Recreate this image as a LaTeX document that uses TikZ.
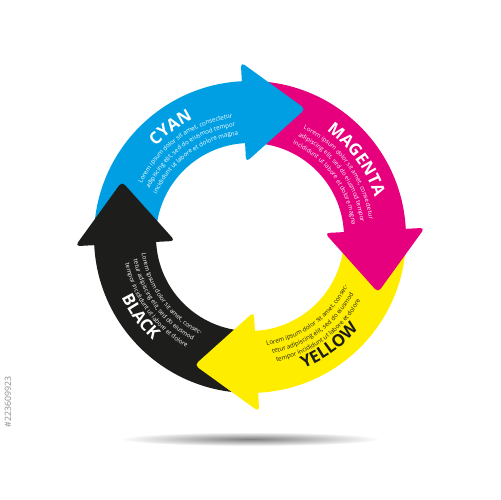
\documentclass[tikz,border=0pt]{standalone}
\usepackage{fontspec}
\setmainfont{Open Sans}
\usetikzlibrary{decorations.text}

\definecolor{inkcyan}{HTML}{009FE3}
\definecolor{inkmagenta}{HTML}{E6007E}
\definecolor{inkyellow}{HTML}{FFED00}
\definecolor{inkblack}{HTML}{1D1D1B}

\newcommand{\titlefont}{\bfseries\fontsize{19}{19}\selectfont}
\newcommand{\loremfont}{\fontsize{7}{8}\selectfont}

% band + arrow head of one colour, turned by #2
\newcommand{\cmykarrow}[2]{%
	\begin{scope}[rotate=#2]
		\fill[#1] (89:156) arc[start angle=89, end angle=179, radius=156] -- (179:94) arc[start angle=179, end angle=89, radius=94] -- cycle;
	\end{scope}}
\newcommand{\cmykhead}[2]{%
	\begin{scope}[rotate=#2]
		\fill[#1, rounded corners=5pt] (0,75) -- (62,125) -- (0,175) -- cycle;
	\end{scope}}
% text on an arc: #1 radius, #2 middle angle, #3 colour, #4 text
\newcommand{\cwtext}[4]{%
	\path[decorate, decoration={text along path, text align=center, text color=#3, text={#4}}] ({#2+45}:#1) arc[start angle={#2+45}, end angle={#2-45}, radius=#1];}
\newcommand{\ccwtext}[4]{%
	\path[decorate, decoration={text along path, text align=center, text color=#3, text={#4}}] ({#2-45}:#1) arc[start angle={#2-45}, end angle={#2+45}, radius=#1];}

\begin{document}
\begin{tikzpicture}[x=0.04cm, y=0.04cm]
	\useasboundingbox (-250,-263) rectangle (250,237);
	
	% shadow
	\shade[inner color=black!50, outer color=white] (0,-202) ellipse (130 and 7);
	
	\cmykarrow{inkcyan}{3}
	\cmykarrow{inkmagenta}{-87}
	\cmykarrow{inkyellow}{-177}
	\cmykarrow{inkblack}{-267}
	
	\cmykhead{inkcyan}{3}
	\cmykhead{inkmagenta}{-87}
	\cmykhead{inkyellow}{-177}
	\cmykhead{inkblack}{-267}
	
	% cyan
	\cwtext{131}{126}{white}{|\titlefont|CYAN}
	\cwtext{120.5}{126}{white}{|\loremfont|Lorem ipsum dolor sit amet, consectetur}
	\cwtext{111.5}{126}{white}{|\loremfont|adipiscing elit, sed do eiusmod tempor}
	\cwtext{102.5}{126}{white}{|\loremfont|incididunt ut labore et dolore magna}
	% magenta
	\cwtext{131}{36}{white}{|\titlefont|MAGENTA}
	\cwtext{120.5}{36}{white}{|\loremfont|Lorem ipsum dolor sit amet, consectetur}
	\cwtext{111.5}{36}{white}{|\loremfont|adipiscing elit, sed do eiusmod tempor}
	\cwtext{102.5}{36}{white}{|\loremfont|incididunt ut labore et dolore magna}
	% yellow
	\ccwtext{109.5}{-54}{inkblack}{|\loremfont|Lorem ipsum dolor sit amet, consec-}
	\ccwtext{118.5}{-54}{inkblack}{|\loremfont|tetur adipiscing elit, sed do eiusmod}
	\ccwtext{127.5}{-54}{inkblack}{|\loremfont|tempor incididunt ut labore et dolore}
	\ccwtext{142}{-54}{inkblack}{|\titlefont|YELLOW}
	% black
	\ccwtext{109.5}{216}{white}{|\loremfont|Lorem ipsum dolor sit amet, consec-}
	\ccwtext{118.5}{216}{white}{|\loremfont|tetur adipiscing elit, sed do eiusmod}
	\ccwtext{127.5}{216}{white}{|\loremfont|tempor incididunt ut labore et dolore}
	\ccwtext{142}{216}{white}{|\titlefont|BLACK}
	
	\node[rotate=90, text=black!45, font=\fontsize{10}{10}\selectfont] (stockid) at (-242,-165) {\#223609923};
\end{tikzpicture}
\end{document}
